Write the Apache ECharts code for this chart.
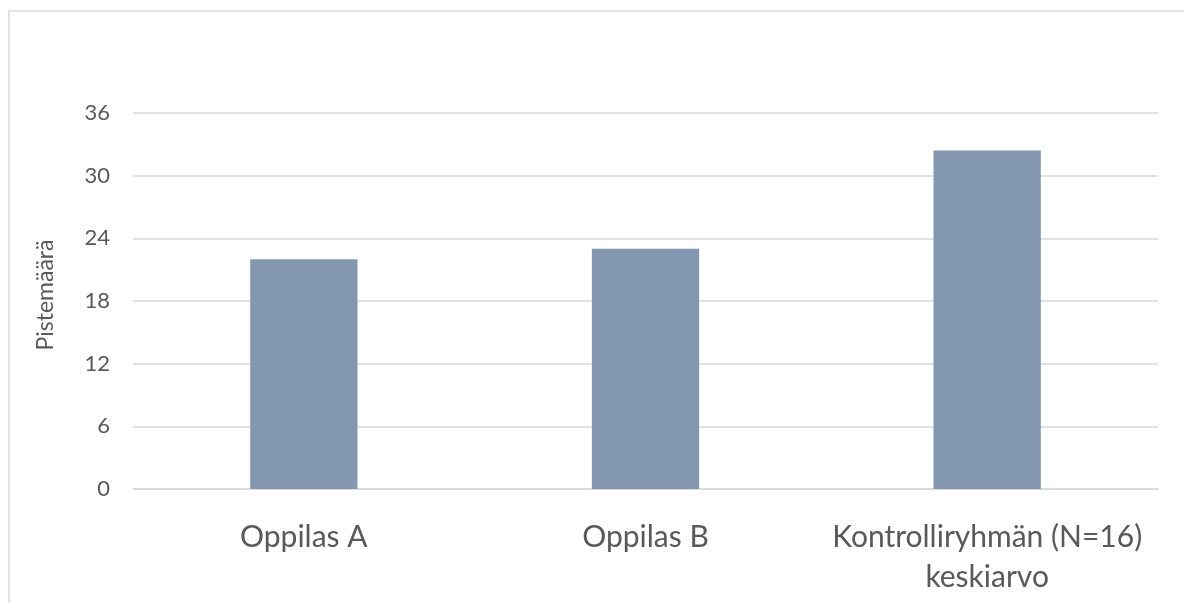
<!DOCTYPE html>
<html>
<head>
<meta charset="utf-8">
<script src="https://cdn.jsdelivr.net/npm/echarts@6/dist/echarts.min.js"></script>
<style>
  html, body { margin: 0; padding: 0; background: #fff; }
  #frame { position: absolute; left: 8px; top: 10px; width: 1176px; height: 593px;
           border-left: 2px solid #e3e3e3; border-top: 2px solid #e3e3e3; box-sizing: border-box; }
  #chart { position: absolute; left: 0; top: 0; width: 1184px; height: 603px; }
</style>
</head>
<body>
<div id="frame"></div>
<div id="chart"></div>
<script>
const categories = ['Oppilas A', 'Oppilas B', 'Kontrolliryhmän (N=16)\nkeskiarvo'];
const scores = [22, 23, 32.4];
const yTicks = { min: 0, max: 36, interval: 6 };
const yName = 'Pistemäärä';

const chart = echarts.init(document.getElementById('chart'), null, { renderer: 'canvas' });
const fontFamily = 'Lato, "Open Sans", sans-serif';
chart.setOption({
  animation: false,
  grid: { left: 133, right: 26, top: 113, bottom: 114, containLabel: false },
  xAxis: {
    type: 'category',
    data: categories,
    axisTick: { show: false },
    axisLine: { lineStyle: { color: '#d9d9d9', width: 1.5 } },
    axisLabel: { color: '#595959', fontSize: 30, fontFamily, margin: 28, lineHeight: 40, interval: 0 }
  },
  yAxis: {
    type: 'value',
    min: yTicks.min, max: yTicks.max, interval: yTicks.interval,
    name: yName,
    nameLocation: 'middle',
    nameGap: 76,
    nameTextStyle: { color: '#595959', fontSize: 23, fontFamily, padding: [0, 0, 0, 12] },
    axisLine: { show: false },
    axisTick: { show: false },
    axisLabel: { color: '#595959', fontSize: 22, fontFamily, margin: 23 },
    splitLine: { lineStyle: { color: '#d9d9d9', width: 1.5 } }
  },
  series: [{
    type: 'bar',
    data: scores,
    barWidth: '31.4%',
    itemStyle: { color: '#8497b0' }
  }]
});
</script>
</body>
</html>
